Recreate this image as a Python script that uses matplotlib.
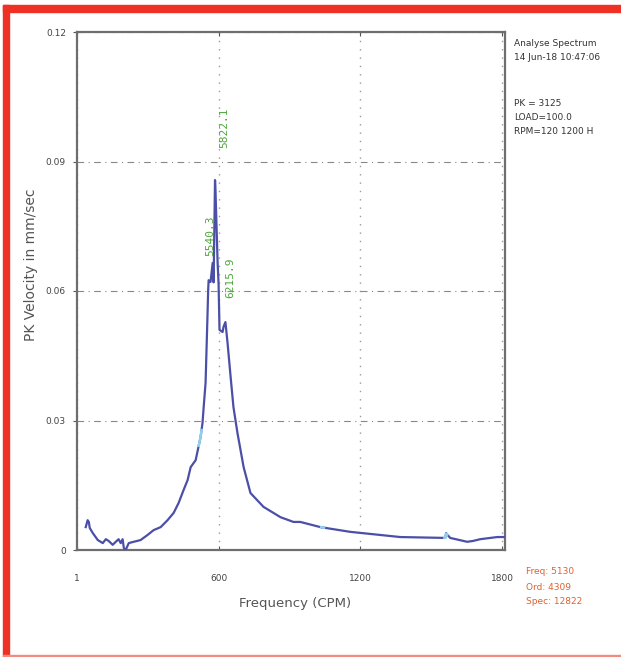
import matplotlib
matplotlib.use('Agg')
import matplotlib.pyplot as plt
import numpy as np
from matplotlib.patches import Rectangle

# spectrum (CPM, mm/sec)
freq = [38, 46, 51, 55, 68, 89, 110, 123, 135, 152, 165, 177, 186, 194, 199, 207,
        220, 241, 270, 300, 325, 355, 384, 410, 431, 452, 469, 482, 503, 524, 532,
        537, 545, 549, 553, 556, 558, 566, 575, 579, 585, 587, 589, 596, 600, 604,
        617, 621, 629, 638, 651, 663, 680, 706, 735, 790, 862, 917, 946, 1031,
        1158, 1369, 1559, 1563, 1580, 1652, 1677, 1707, 1779, 1812]
vel = [0.0053, 0.0069, 0.0065, 0.0051, 0.0039, 0.0023, 0.0016, 0.0025, 0.0021,
       0.0012, 0.0019, 0.0025, 0.0016, 0.0025, 0.0005, 0.0000, 0.0016, 0.0019,
       0.0023, 0.0035, 0.0046, 0.0053, 0.0069, 0.0086, 0.0109, 0.0139, 0.0162,
       0.0192, 0.0208, 0.0262, 0.0294, 0.0331, 0.0387, 0.0463, 0.0540, 0.0602,
       0.0625, 0.0621, 0.0665, 0.0620, 0.0857, 0.0834, 0.0795, 0.0665, 0.0618,
       0.0510, 0.0505, 0.0517, 0.0528, 0.0480, 0.0401, 0.0331, 0.0271, 0.0192,
       0.0132, 0.0100, 0.0076, 0.0065, 0.0065, 0.0053, 0.0042, 0.0030, 0.0028,
       0.0039, 0.0028, 0.0019, 0.0021, 0.0025, 0.0030, 0.0030]

peak_freq = [575, 587, 629]
peak_vel = [0.0665, 0.0857, 0.0528]
peak_labels = ['5540.3', '5822.1', '6215.9']

harmonics = [522, 1040, 1562]

x_ticks = [1, 600, 1200, 1800]
y_ticks = [0, 0.03, 0.06, 0.09, 0.12]
y_ticklabels = ['0', '0.03', '0.06', '0.09', '0.12']

info_top = ['Analyse Spectrum', '14 Jun-18 10:47:06']
info_mid = ['PK = 3125', 'LOAD=100.0', 'RPM=120 1200 H']
info_cursor = ['Freq: 5130', 'Ord: 4309', 'Spec: 12822']

small = 6.5

fig = plt.figure(figsize=(6.21, 6.57), dpi=100)
ax = fig.add_axes([77 / 621, 1 - 550 / 657, 428 / 621, 518 / 657])

# red frame
fig.patches.append(Rectangle((3 / 621, 1 - 12 / 657), 1, 7 / 657, transform=fig.transFigure,
                             color='#ee3124', zorder=0))
fig.patches.append(Rectangle((3 / 621, 0), 6 / 621, 1 - 5 / 657, transform=fig.transFigure,
                             color='#ee3124', zorder=0))
fig.patches.append(Rectangle((3 / 621, 0), 1, 2 / 657, transform=fig.transFigure,
                             color='#f28a80', zorder=0))

ax.plot(freq, vel, color='#4b4fa8', lw=1.6, zorder=3)
for h in harmonics:
    xs = np.linspace(h - 6, h + 6, 5)
    ax.plot(xs, np.interp(xs, freq, vel), color='#8fd0ee', lw=1.8, zorder=4)

offsets = [(-10, 0.0015), (38, 0.0075), (20, 0.0055)]
for f, v, lab, (dx, dy) in zip(peak_freq, peak_vel, peak_labels, offsets):
    ax.text(f + dx, v + dy, lab, rotation=90, ha='center', va='bottom',
            fontsize=8, color='#4fa63a', family='DejaVu Sans Mono')

ax.set_xlim(1, 1812)
ax.set_ylim(0, 0.12)
ax.set_xticks(x_ticks)
ax.set_xticklabels([str(t) for t in x_ticks], fontsize=small, color='#444')
ax.set_yticks(y_ticks)
ax.set_yticklabels(y_ticklabels, fontsize=small, color='#444')
ax.tick_params(axis='x', direction='in', top=True, length=3, pad=17, color='#555')
ax.tick_params(axis='y', direction='out', length=3, pad=5, color='#555')

ax.grid(axis='y', color='#888', linestyle=(0, (6, 4, 1, 4)), linewidth=0.8)
ax.grid(axis='x', color='#999', linestyle=(0, (1, 5)), linewidth=1.0)
for s in ax.spines.values():
    s.set_color('#6e6e6e')
    s.set_linewidth(1.6)

ax.set_xlabel('Frequency (CPM)', fontsize=9.5, color='#555')
ax.set_ylabel('PK Velocity in mm/sec', fontsize=10, color='#555')
ax.xaxis.set_label_coords(0.509, -0.09)
ax.yaxis.set_label_coords(-0.09, 0.55)

for i, t in enumerate(info_top):
    fig.text(514 / 621, 1 - (43 + 14 * i) / 657, t, fontsize=small, color='#333', va='center')
for i, t in enumerate(info_mid):
    fig.text(514 / 621, 1 - (104 + 14 * i) / 657, t, fontsize=small, color='#333', va='center')
for i, t in enumerate(info_cursor):
    fig.text(526 / 621, 1 - (572 + 15 * i) / 657, t, fontsize=small, color='#e0602c', va='center')

fig.savefig('out.png', dpi=100)
